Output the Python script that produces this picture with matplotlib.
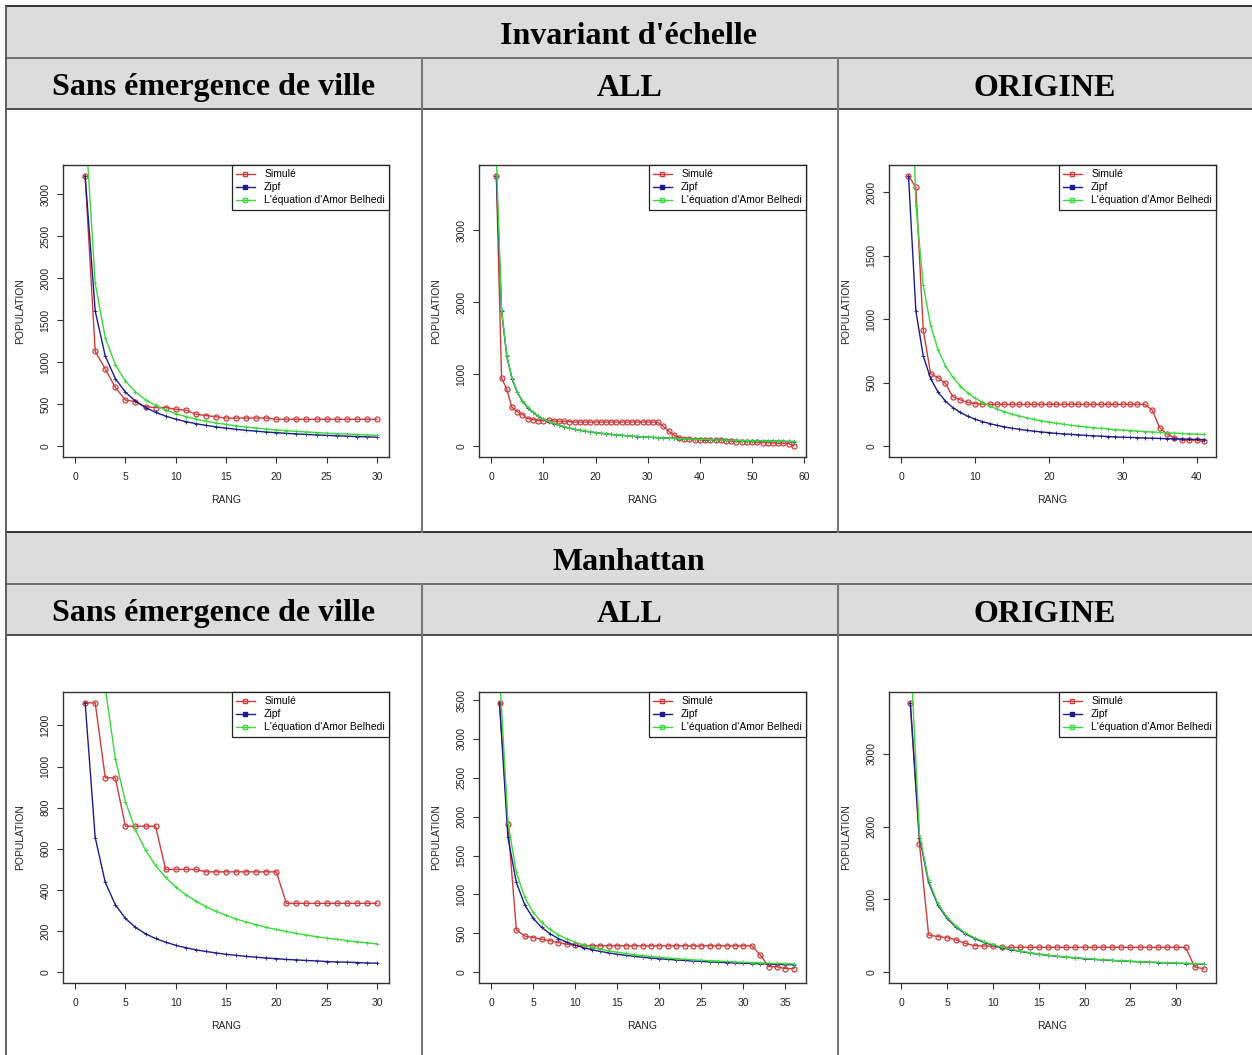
import matplotlib
matplotlib.use("Agg")
import matplotlib.pyplot as plt
from matplotlib.lines import Line2D
from matplotlib.patches import Rectangle

# ---- data (rank 1..n) ----
# Invariant d'echelle / Sans emergence de ville
inv_sans_sim = [3220, 1130, 920, 700, 550, 530, 470, 460, 460, 440, 430, 380, 365, 350, 335,
                335, 335, 335, 335, 320, 320, 320, 320, 320, 320, 320, 320, 320, 320, 320]
inv_sans_zipf = [3220, 1610, 1073, 805, 644, 537, 460, 403, 358, 322, 293, 268, 248, 230, 215,
                 201, 189, 179, 169, 161, 153, 146, 140, 134, 129, 124, 119, 115, 111, 107]
inv_sans_amor = [3880, 1940, 1293, 970, 776, 647, 554, 485, 431, 388, 353, 323, 298, 277, 259,
                 243, 228, 216, 204, 194, 185, 176, 169, 162, 155, 149, 144, 139, 134, 129]

# Invariant d'echelle / ALL
inv_all_sim = [3760, 950, 790, 540, 480, 440, 385, 370, 355, 355, 360, 350, 345, 345, 340,
               335, 335, 335, 335, 335, 335, 335, 335, 335, 335, 335, 335, 335, 335, 335, 335,
               330, 275, 210, 155, 120, 105, 95, 90, 90, 85, 85, 80, 80, 75, 70, 65, 65, 60, 60,
               55, 50, 50, 45, 40, 40, 35, 5]
inv_all_zipf = [3760, 1880, 1253, 940, 752, 627, 537, 470, 418, 376, 342, 313, 289, 269, 251,
                235, 221, 209, 198, 188, 179, 171, 163, 157, 150, 145, 139, 134, 130, 125, 121,
                118, 114, 111, 107, 104, 102, 99, 96, 94, 92, 90, 87, 85, 84, 82, 80, 78, 77, 75,
                74, 72, 71, 70, 68, 67, 66, 65]
inv_all_amor = [4000, 1900, 1267, 950, 760, 633, 543, 475, 422, 380, 345, 317, 292, 271, 253,
                238, 224, 211, 200, 190, 181, 173, 165, 158, 152, 146, 141, 136, 131, 127, 123,
                119, 115, 112, 109, 106, 103, 100, 97, 95, 93, 90, 88, 86, 84, 83, 81, 79, 78, 76,
                75, 73, 72, 70, 69, 68, 67, 66]

# Invariant d'echelle / ORIGINE
inv_orig_sim = [2130, 2040, 915, 570, 540, 495, 390, 365, 345, 335,
                330, 330, 330, 330, 330, 330, 330, 330, 330, 330, 330, 330, 330, 330, 330, 330,
                330, 330, 330, 330, 330, 330, 330, 285, 147, 95, 68, 47, 47, 47, 37]
inv_orig_zipf = [2130, 1065, 710, 533, 426, 355, 304, 266, 237, 213, 194, 178, 164, 152, 142,
                 133, 125, 118, 112, 107, 101, 97, 93, 89, 85, 82, 79, 76, 73, 71, 69, 67, 65,
                 63, 61, 59, 58, 56, 55, 53, 52]
inv_orig_amor = [3800, 1900, 1267, 950, 760, 633, 543, 475, 422, 380, 345, 317, 292, 271, 253,
                 238, 224, 211, 200, 190, 181, 173, 165, 158, 152, 146, 141, 136, 131, 127, 123,
                 119, 115, 112, 109, 106, 103, 100, 97, 95, 93]

# Manhattan / Sans emergence de ville
man_sans_sim = [1310, 1310, 945, 945, 710, 710, 710, 710, 500, 500, 500, 500,
                488, 488, 488, 488, 488, 488, 488, 488,
                335, 335, 335, 335, 335, 335, 335, 335, 335, 335]
man_sans_zipf = [1310, 655, 437, 328, 262, 218, 187, 164, 146, 131, 119, 109, 101, 94, 87,
                 82, 77, 73, 69, 66, 62, 60, 57, 55, 52, 50, 49, 47, 45, 44]
man_sans_amor = [4150, 2075, 1383, 1038, 830, 692, 593, 519, 461, 415, 377, 346, 319, 296, 277,
                 259, 244, 231, 218, 208, 198, 189, 180, 173, 166, 160, 154, 148, 143, 138]

# Manhattan / ALL
man_all_sim = [3465, 1900, 545, 465, 445, 425, 405, 380, 360, 345,
               340, 340, 340, 340, 340, 340, 340, 340, 340, 340, 340, 340, 340, 340, 340, 340,
               340, 340, 340, 340, 340, 222, 73, 70, 47, 47]
man_all_zipf = [3465, 1733, 1155, 866, 693, 578, 495, 433, 385, 347, 315, 289, 267, 248, 231,
                217, 204, 193, 182, 173, 165, 158, 151, 144, 139, 133, 128, 124, 119, 116, 112,
                108, 105, 102, 99, 96]
man_all_amor = [3850, 1925, 1283, 963, 770, 642, 550, 481, 428, 385, 350, 321, 296, 275, 257,
                241, 226, 214, 203, 193, 183, 175, 167, 160, 154, 148, 143, 138, 133, 128, 124,
                120, 117, 113, 110, 107]

# Manhattan / ORIGINE
man_orig_sim = [3700, 1765, 510, 490, 475, 445, 395, 365, 360, 355,
                342, 342, 342, 342, 342, 342, 342, 342, 342, 342, 342, 342, 342, 342, 342, 342,
                342, 342, 342, 342, 342, 73, 46]
man_orig_zipf = [3700, 1850, 1233, 925, 740, 617, 529, 463, 411, 370, 336, 308, 285, 264, 247,
                 231, 218, 206, 195, 185, 176, 168, 161, 154, 148, 142, 137, 132, 128, 123, 119,
                 116, 112]
man_orig_amor = [4430, 1890, 1260, 945, 756, 630, 540, 473, 420, 378, 344, 315, 291, 270, 252,
                 236, 222, 210, 199, 189, 180, 172, 164, 158, 151, 145, 140, 135, 130, 126, 122,
                 118, 115]

# tick positions of each panel
inv_sans_xt, inv_sans_yt = list(range(0, 31, 5)), list(range(0, 3001, 500))
inv_all_xt, inv_all_yt = list(range(0, 61, 10)), list(range(0, 3001, 1000))
inv_orig_xt, inv_orig_yt = list(range(0, 41, 10)), list(range(0, 2001, 500))
man_sans_xt, man_sans_yt = list(range(0, 31, 5)), list(range(0, 1201, 200))
man_all_xt, man_all_yt = list(range(0, 36, 5)), list(range(0, 3501, 500))
man_orig_xt, man_orig_yt = list(range(0, 31, 5)), list(range(0, 3001, 1000))

group_titles = ["Invariant d'échelle", "Manhattan"]
col_titles = ["Sans émergence de ville", "ALL", "ORIGINE"]
legend_labels = ["Simulé", "Zipf", "L'équation d'Amor Belhedi"]

RED, BLUE, GREEN = "#d03c3c", "#1c1c8c", "#3ad83a"
W, H = 1252, 1055

fig = plt.figure(figsize=(W / 100, H / 100), dpi=100)
fig.patch.set_facecolor("white")


def fx(x):
    return x / W


def fy(y):
    return 1 - y / H


def hline(y, x0, x1, color, lw):
    fig.add_artist(Line2D([fx(x0), fx(x1)], [fy(y), fy(y)], transform=fig.transFigure,
                          color=color, lw=lw, zorder=5))


def vline(x, y0, y1, color, lw):
    fig.add_artist(Line2D([fx(x), fx(x)], [fy(y0), fy(y1)], transform=fig.transFigure,
                          color=color, lw=lw, zorder=5))


# ---- table frame ----
col_edges = [6, 422, 838, 1252]
for top in [6, 532]:
    for y0, y1 in [(top, top + 52), (top + 52, top + 103)]:
        fig.add_artist(Rectangle((fx(6), fy(y1)), (1252 - 6) / W, (y1 - y0) / H,
                                 transform=fig.transFigure, facecolor="#dcdcdc",
                                 edgecolor="none", zorder=1))
    hline(top, 6, 1252, "#222222", 1.3)
    hline(top + 52, 6, 1252, "#666666", 1.3)
    hline(top + 103, 6, 1252, "#222222", 1.1)
vline(6, 6, 1055, "#555555", 1.3)
for x in col_edges[1:3]:
    vline(x, 58, 532, "#777777", 1.5)
    vline(x, 584, 1055, "#777777", 1.5)

title_font = dict(family="Liberation Serif", weight="bold", size=23, color="black",
                  ha="center", va="center", zorder=6)
for g, top in enumerate([6, 532]):
    fig.text(fx(629), fy(top + 30), group_titles[g], **title_font)
    for c in range(3):
        fig.text(fx((col_edges[c] + col_edges[c + 1]) / 2), fy(top + 82), col_titles[c],
                 **title_font)

# ---- panels ----
panels = [
    (inv_sans_sim, inv_sans_zipf, inv_sans_amor, inv_sans_xt, inv_sans_yt, 63, 389, 165, 457),
    (inv_all_sim, inv_all_zipf, inv_all_amor, inv_all_xt, inv_all_yt, 479, 806, 165, 457),
    (inv_orig_sim, inv_orig_zipf, inv_orig_amor, inv_orig_xt, inv_orig_yt, 889, 1216, 165, 457),
    (man_sans_sim, man_sans_zipf, man_sans_amor, man_sans_xt, man_sans_yt, 63, 389, 692, 983),
    (man_all_sim, man_all_zipf, man_all_amor, man_all_xt, man_all_yt, 479, 806, 692, 983),
    (man_orig_sim, man_orig_zipf, man_orig_amor, man_orig_xt, man_orig_yt, 889, 1216, 692, 983),
]

for sim, zipf, amor, xt, yt, l, r, t, b in panels:
    ax = fig.add_axes([fx(l), fy(b), (r - l) / W, (b - t) / H])
    rang = list(range(1, len(sim) + 1))
    ax.plot(rang, sim, color=RED, lw=1.0, marker="o", ms=3.6, mfc="none", mec=RED, mew=0.9)
    ax.plot(rang, zipf, color=BLUE, lw=1.0, marker="+", ms=2.5, mew=0.6)
    ax.plot(rang, amor, color=GREEN, lw=1.0, marker="+", ms=2.5, mew=0.6)

    n = len(sim)
    top = max(sim)
    ax.set_xlim(-0.04 * n, 1.04 * n)
    ax.set_ylim(-0.04 * top, 1.04 * top)
    ax.set_xticks(xt)
    ax.set_yticks(yt)
    ax.tick_params(direction="out", length=4, width=0.8, colors="#333333", labelsize=7.5,
                   labelcolor="#222222")
    ax.tick_params(axis="x", pad=7)
    ax.tick_params(axis="y", pad=5)
    for lab in ax.get_yticklabels():
        lab.set_rotation(90)
        lab.set_va("center")
    for lab in ax.get_xticklabels() + ax.get_yticklabels():
        lab.set_family("Liberation Sans")
    for s in ax.spines.values():
        s.set_color("#333333")
        s.set_linewidth(1.0)

    ax.set_xlabel("RANG", family="Liberation Sans", size=7.5, color="#222222", va="center")
    ax.set_ylabel("POPULATION", family="Liberation Sans", size=7.5, color="#222222",
                  va="center", ha="center")
    ax.xaxis.set_label_coords(0.5, -43 / (b - t))
    ax.yaxis.set_label_coords(-43 / (r - l), 0.5)

    handles = [
        Line2D([], [], color=RED, lw=1.0, marker="s", ms=3.5, mfc="none", mec=RED),
        Line2D([], [], color=BLUE, lw=1.0, marker="s", ms=3.5, mfc=BLUE, mec=BLUE),
        Line2D([], [], color=GREEN, lw=1.0, marker="s", ms=3.5, mfc="none", mec=GREEN),
    ]
    leg = ax.legend(handles, legend_labels, loc="upper right", bbox_to_anchor=(1, 1),
                    borderaxespad=0, fancybox=False, framealpha=1, edgecolor="#222222",
                    prop={"family": "Liberation Sans", "size": 7.5}, handlelength=1.8,
                    handletextpad=0.9, borderpad=0.4, labelspacing=0.3, numpoints=1)
    leg.get_frame().set_linewidth(0.9)

fig.savefig("out.png", dpi=100)
